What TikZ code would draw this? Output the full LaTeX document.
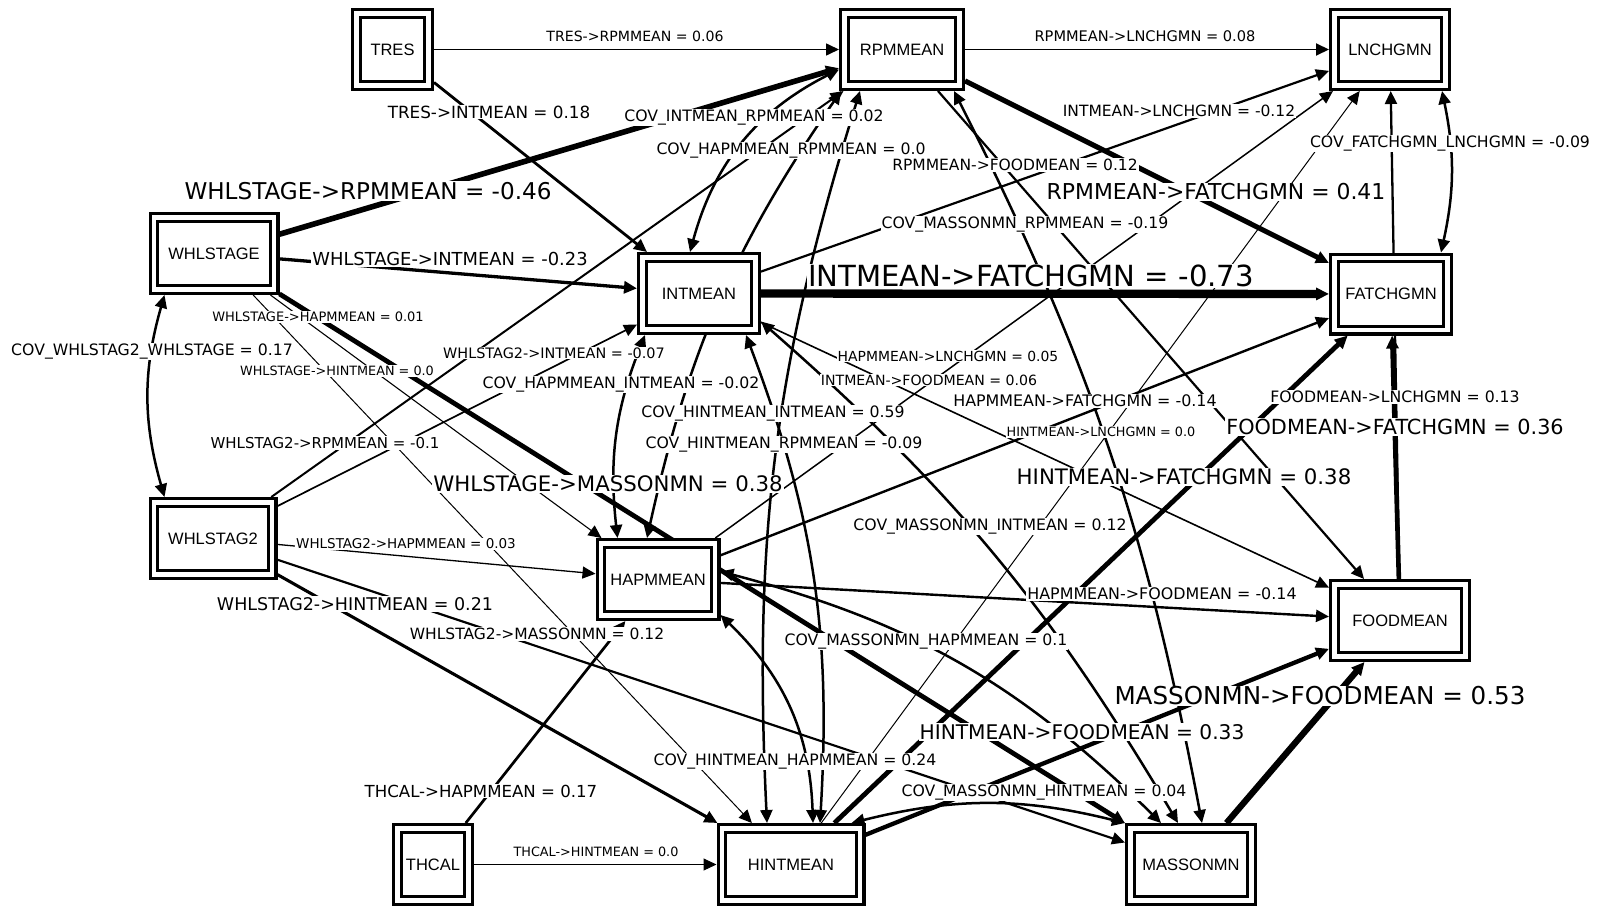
\documentclass[tikz,border=0pt]{standalone}
\usepackage{fontspec}
\setmainfont{Liberation Sans}
\newfontfamily\lblfont{DejaVu Sans}
\usetikzlibrary{arrows.meta,calc}
\pgfdeclarelayer{background}
\pgfsetlayers{background,main}

\begin{document}
\begin{tikzpicture}[x=1pt,y=-1pt,
  var/.style={draw, fill=white, line width=3.2pt, double=white, double distance=4.5pt,
    inner sep=0pt, outer sep=5.45pt, minimum height=72.1pt, font=\fontsize{16.5}{16.5}\selectfont},
  tip/.style={Triangle[length=13pt, width=12pt]},
  reg/.style={line width=#1pt, -{Triangle[length=13pt, width=12pt]}},
  cov/.style={line width=2.5pt,
    {Triangle[length=13pt, width=12pt]}-{Triangle[length=13pt, width=12pt]}},
  lbl/.style={font=\lblfont\fontsize{#1}{#1}\selectfont, fill=white, inner sep=1pt,
    anchor=base, yshift=-0.365*#1pt},
  clbl/.style={lbl=15.7}
]
\useasboundingbox (0,0) rectangle (1600,907);

% variables
\node[var, minimum width=72.1pt]  (TRES)     at (392.5,49.5) {TRES};
\node[var, minimum width=115.1pt] (RPMMEAN)  at (902,49.5)   {RPMMEAN};
\node[var, minimum width=111.1pt] (LNCHGMN)  at (1390,49.5)  {LNCHGMN};
\node[var, minimum width=120.1pt] (WHLSTAGE) at (214,253.5)  {WHLSTAGE};
\node[var, minimum width=113.1pt] (INTMEAN)  at (699,293.5)  {INTMEAN};
\node[var, minimum width=113.1pt] (FATCHGMN) at (1391,294)   {FATCHGMN};
\node[var, minimum width=118.1pt] (WHLSTAG2) at (213,538.5)  {WHLSTAG2};
\node[var, minimum width=114.1pt] (HAPMMEAN) at (658,579.5)  {HAPMMEAN};
\node[var, minimum width=131.1pt] (FOODMEAN) at (1400,620.5) {FOODMEAN};
\node[var, minimum width=71.1pt]  (THCAL)    at (433,864.5)  {THCAL};
\node[var, minimum width=138.1pt] (HINTMEAN) at (791,864.5)  {HINTMEAN};
\node[var, minimum width=121.1pt] (MASSONMN) at (1191,864.5) {MASSONMN};

\begin{pgfonlayer}{background}
% regression paths
\draw[reg=1.6] (TRES) -- (RPMMEAN);
\draw[reg=2.8] (TRES) -- (INTMEAN);
\draw[reg=1.8] (RPMMEAN) -- (LNCHGMN);
\draw[reg=2.2] (RPMMEAN) -- (FOODMEAN);
\draw[reg=5.1] (RPMMEAN) -- (FATCHGMN);
\draw[reg=2.2] (INTMEAN) -- (LNCHGMN);
\draw[reg=8.3] (INTMEAN) -- (FATCHGMN);
\draw[reg=1.6] (INTMEAN) -- (FOODMEAN);
\draw[reg=5.6] (WHLSTAGE) -- (RPMMEAN);
\draw[reg=3.3] (WHLSTAGE) -- (INTMEAN);
\draw[reg=1.1] (WHLSTAGE) -- (HAPMMEAN);
\draw[reg=1.0] (WHLSTAGE) -- (HINTMEAN);
\draw[reg=4.8] (WHLSTAGE) -- (MASSONMN);
\draw[reg=2.0] (WHLSTAG2) -- (RPMMEAN);
\draw[reg=1.7] (WHLSTAG2) -- (INTMEAN);
\draw[reg=1.3] (WHLSTAG2) -- (HAPMMEAN);
\draw[reg=3.1] (WHLSTAG2) -- (HINTMEAN);
\draw[reg=2.2] (WHLSTAG2) -- (MASSONMN);
\draw[reg=1.5] (HAPMMEAN) -- (LNCHGMN);
\draw[reg=2.4] (HAPMMEAN) -- (FATCHGMN);
\draw[reg=2.4] (HAPMMEAN) -- (FOODMEAN);
\draw[reg=1.0] (HINTMEAN) -- (LNCHGMN);
\draw[reg=4.8] (HINTMEAN) -- (FATCHGMN);
\draw[reg=4.3] (HINTMEAN) -- (FOODMEAN);
\draw[reg=2.3] (FOODMEAN) -- (LNCHGMN);
\draw[reg=4.6] (FOODMEAN) -- (FATCHGMN);
\draw[reg=6.3] (MASSONMN) -- (FOODMEAN);
\draw[reg=2.7] (THCAL) -- (HAPMMEAN);
\draw[reg=1.0] (THCAL) -- (HINTMEAN);

% covariances
\draw[cov] ($(WHLSTAGE.south west)+(16,0)$) to[bend right=16] ($(WHLSTAG2.north west)+(16,0)$);
\draw[cov] ($(LNCHGMN.south east)+(-9,0)$) to[bend left=12] ($(FATCHGMN.north east)+(-12,0)$);
\draw[cov] ($(INTMEAN.north)+(-9,0)$) to[bend left=24] ($(RPMMEAN.west)+(0,20)$);
\draw[cov] ($(HAPMMEAN.north)+(-11,0)$) to[bend left=11] ($(RPMMEAN.south west)+(2,0)$);
\draw[cov] ($(INTMEAN.south west)+(8,0)$) to[bend right=14] ($(HAPMMEAN.north west)+(22,0)$);
\draw[cov] ($(INTMEAN.south east)+(-15,0)$) to[bend left=12] ($(HINTMEAN.north)+(29,0)$);
\draw[cov] ($(RPMMEAN.south)+(-42,0)$) to[bend right=10] ($(HINTMEAN.north)+(-24,0)$);
\draw[cov] ($(HAPMMEAN.south east)+(0,-6)$) to[bend left=22] ($(HINTMEAN.north)+(22,0)$);
\draw[cov] ($(HINTMEAN.north east)+(-14,0)$) to[bend left=14] (MASSONMN.north west);
\draw[cov] ($(HAPMMEAN.east)+(0,-8)$) to[bend left=15] ($(MASSONMN.north west)+(36,0)$);
\draw[cov] ($(INTMEAN.east)+(0,28)$) to[bend left=9] ($(MASSONMN.north)+(-13,0)$);
\draw[cov] ($(RPMMEAN.south east)+(-11,0)$) to[bend left=8] ($(MASSONMN.north)+(11,0)$);
\end{pgfonlayer}

% coefficient labels
\node[lbl=14.1] (l1)  at (635,36.5)  {TRES->RPMMEAN = 0.06};
\node[lbl=14.6] (l2)  at (1145,36)   {RPMMEAN->LNCHGMN = 0.08};
\node[lbl=16.8] (l3)  at (489,112)   {TRES->INTMEAN = 0.18};
\node[clbl]     (l4)  at (754,115.5) {COV\_INTMEAN\_RPMMEAN = 0.02};
\node[clbl]     (l5)  at (791,149)   {COV\_HAPMMEAN\_RPMMEAN = 0.0};
\node[lbl=15.5] (l6)  at (1015,165)  {RPMMEAN->FOODMEAN = 0.12};
\node[lbl=15.5] (l7)  at (1179,111)  {INTMEAN->LNCHGMN = -0.12};
\node[clbl]     (l8)  at (1450,142)  {COV\_FATCHGMN\_LNCHGMN = -0.09};
\node[lbl=23.1] (l9)  at (368,191)   {WHLSTAGE->RPMMEAN = -0.46};
\node[lbl=21.9] (l10) at (1216,192)  {RPMMEAN->FATCHGMN = 0.41};
\node[clbl]     (l11) at (1025,223)  {COV\_MASSONMN\_RPMMEAN = -0.19};
\node[lbl=17.9] (l12) at (450,259)   {WHLSTAGE->INTMEAN = -0.23};
\node[lbl=29.1] (l13) at (1031,276)  {INTMEAN->FATCHGMN = -0.73};
\node[lbl=13.0] (l14) at (318,317)   {WHLSTAGE->HAPMMEAN = 0.01};
\node[clbl]     (l15) at (152,349.5) {COV\_WHLSTAG2\_WHLSTAGE = 0.17};
\node[lbl=14.4] (l16) at (554,353)   {WHLSTAG2->INTMEAN = -0.07};
\node[lbl=13.9] (l17) at (948,356)   {HAPMMEAN->LNCHGMN = 0.05};
\node[lbl=12.8] (l18) at (337,371)   {WHLSTAGE->HINTMEAN = 0.0};
\node[clbl]     (l19) at (621,383)   {COV\_HAPMMEAN\_INTMEAN = -0.02};
\node[lbl=14.1] (l20) at (929,380)   {INTMEAN->FOODMEAN = 0.06};
\node[lbl=15.9] (l21) at (1085,401)  {HAPMMEAN->FATCHGMN = -0.14};
\node[lbl=15.7] (l22) at (1395,397)  {FOODMEAN->LNCHGMN = 0.13};
\node[clbl]     (l23) at (773,412)   {COV\_HINTMEAN\_INTMEAN = 0.59};
\node[lbl=12.8] (l24) at (1101,432)  {HINTMEAN->LNCHGMN = 0.0};
\node[clbl]     (l25) at (784,443)   {COV\_HINTMEAN\_RPMMEAN = -0.09};
\node[lbl=20.8] (l26) at (1395,427)  {FOODMEAN->FATCHGMN = 0.36};
\node[lbl=21.3] (l27) at (1184,477)  {HINTMEAN->FATCHGMN = 0.38};
\node[lbl=21.3] (l28) at (608,484)   {WHLSTAGE->MASSONMN = 0.38};
\node[clbl]     (l29) at (990,525)   {COV\_MASSONMN\_INTMEAN = 0.12};
\node[lbl=13.5] (l30) at (406,544)   {WHLSTAG2->HAPMMEAN = 0.03};
\node[lbl=15.9] (l31) at (1162,594)  {HAPMMEAN->FOODMEAN = -0.14};
\node[lbl=17.5] (l32) at (355,604)   {WHLSTAG2->HINTMEAN = 0.21};
\node[lbl=15.5] (l33) at (537,634)   {WHLSTAG2->MASSONMN = 0.12};
\node[clbl]     (l34) at (926,640)   {COV\_MASSONMN\_HAPMMEAN = 0.1};
\node[lbl=24.6] (l35) at (1320,696)  {MASSONMN->FOODMEAN = 0.53};
\node[lbl=20.2] (l36) at (1082,732)  {HINTMEAN->FOODMEAN = 0.33};
\node[clbl]     (l37) at (795,760)   {COV\_HINTMEAN\_HAPMMEAN = 0.24};
\node[lbl=16.6] (l38) at (481,791)   {THCAL->HAPMMEAN = 0.17};
\node[clbl]     (l39) at (1044,791)  {COV\_MASSONMN\_HINTMEAN = 0.04};
\node[lbl=12.8] (l40) at (596,852)   {THCAL->HINTMEAN = 0.0};
\node[lbl=15.0] (l41) at (325,443)   {WHLSTAG2->RPMMEAN = -0.1};
\end{tikzpicture}
\end{document}
